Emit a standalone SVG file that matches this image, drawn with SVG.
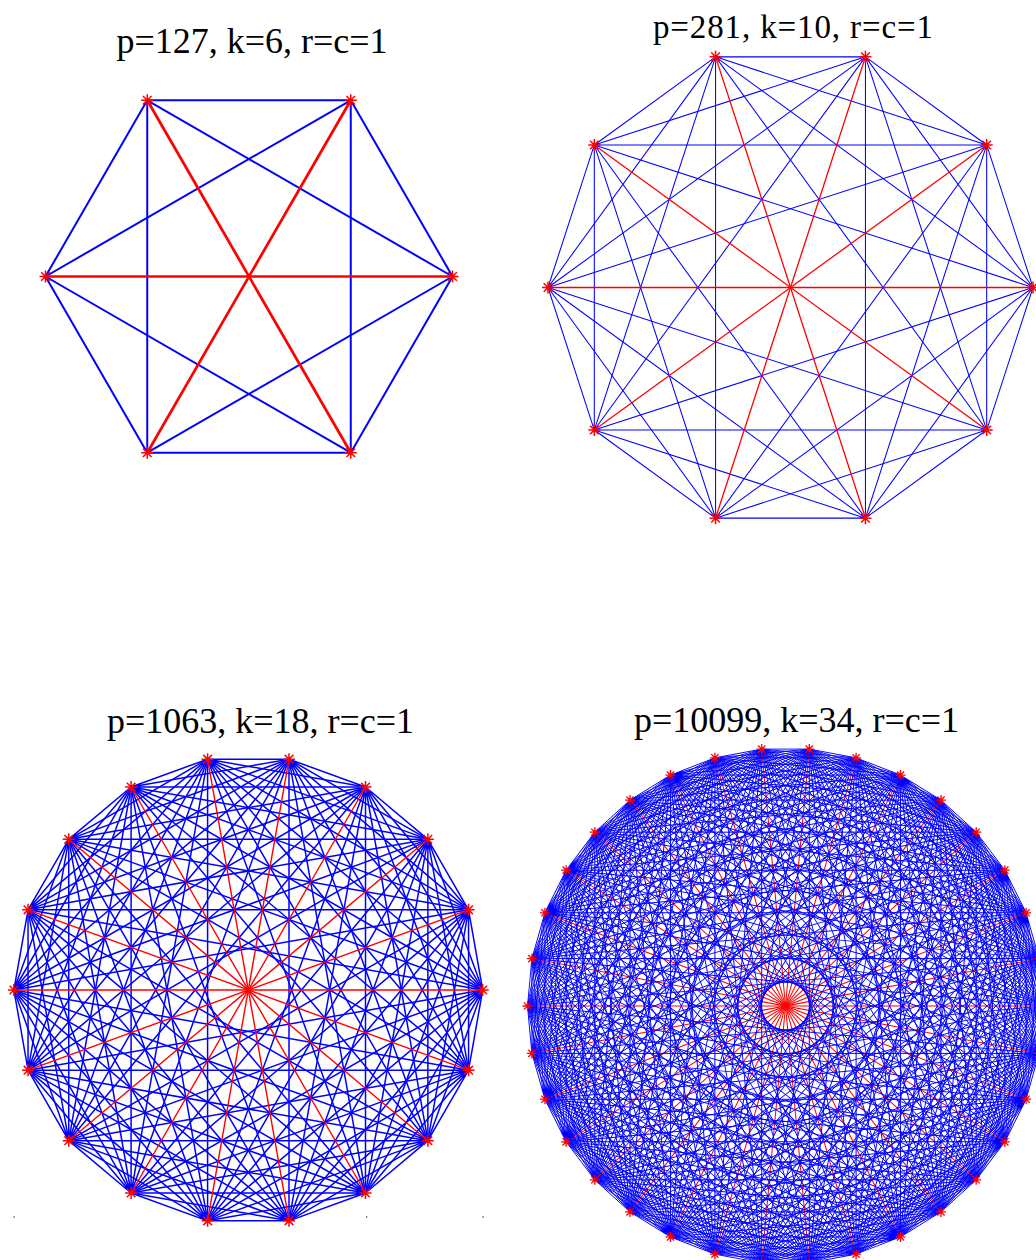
<svg xmlns="http://www.w3.org/2000/svg" xmlns:xlink="http://www.w3.org/1999/xlink" width="1036" height="1260" viewBox="0 0 1036 1260">
<style>
.t{font-family:"Liberation Serif","Times New Roman",serif;font-size:36px;fill:#000;text-anchor:middle}
.b{fill:none;stroke:#0000ff}
.r{fill:none;stroke:#ff0000}
.dot{fill:#777}
</style>
<defs>
<path id="st" d="M-6 0H6M0-6V6M-4.3-4.3L4.3 4.3M-4.3 4.3L4.3-4.3" fill="none" stroke="#ff0000" stroke-width="1.5"/>
<path id="st2" d="M-5 0H5M0-5V5M-3.6-3.6L3.6 3.6M-3.6 3.6L3.6-3.6" fill="none" stroke="#ff0000" stroke-width="1.3"/>
<path id="dia" d="M1 0L-1 0"/>
<path id="c6" d="M1 0L.5 .86603M1 0L-.5 .86603"/>
<path id="c10" d="M1 0L.80902 .58779M1 0L.30902 .95106M1 0L-.30902 .95106M1 0L-.80902 .58779"/>
<path id="c18" d="M1 0L.93969 .34202M1 0L.76604 .64279M1 0L.5 .86603M1 0L.17365 .98481M1 0L-.17365 .98481M1 0L-.5 .86603M1 0L-.76604 .64279M1 0L-.93969 .34202"/>
<path id="c34" d="M1 0L.98297 .18375M1 0L.93247 .36124M1 0L.85022 .52643M1 0L.73901 .6737M1 0L.60263 .79802M1 0L.44574 .89516M1 0L.27366 .96183M1 0L.09227 .99573M1 0L-.09227 .99573M1 0L-.27366 .96183M1 0L-.44574 .89516M1 0L-.60263 .79802M1 0L-.73901 .6737M1 0L-.85022 .52643M1 0L-.93247 .36124M1 0L-.98297 .18375"/>
</defs>

<g id="titles">
<text class="t" x="252" y="53">p=127, k=6, r=c=1</text>
<text class="t" x="793" y="38" style="font-size:33px" textLength="280" lengthAdjust="spacing">p=281, k=10, r=c=1</text>
<text class="t" x="260.5" y="733">p=1063, k=18, r=c=1</text>
<text class="t" x="796.5" y="731.5">p=10099, k=34, r=c=1</text>
</g>

<g id="connectors">
<g id="edges-k6" transform="translate(249 276.5) scale(203.5)">
<g class="b" stroke-width="0.0098">
<use href="#c6"/><use href="#c6" transform="rotate(60)"/><use href="#c6" transform="rotate(120)"/><use href="#c6" transform="rotate(180)"/><use href="#c6" transform="rotate(240)"/><use href="#c6" transform="rotate(300)"/>
</g>
<g class="r" stroke-width="0.0135">
<use href="#dia"/><use href="#dia" transform="rotate(60)"/><use href="#dia" transform="rotate(120)"/>
</g>
</g>

<g id="edges-k10" transform="translate(790.5 287.5) scale(242.5)">
<g class="b" stroke-width="0.0043">
<use href="#c10"/><use href="#c10" transform="rotate(36)"/><use href="#c10" transform="rotate(72)"/><use href="#c10" transform="rotate(108)"/><use href="#c10" transform="rotate(144)"/><use href="#c10" transform="rotate(180)"/><use href="#c10" transform="rotate(216)"/><use href="#c10" transform="rotate(252)"/><use href="#c10" transform="rotate(288)"/><use href="#c10" transform="rotate(324)"/>
</g>
<g class="r" stroke-width="0.0054">
<use href="#dia"/><use href="#dia" transform="rotate(36)"/><use href="#dia" transform="rotate(72)"/><use href="#dia" transform="rotate(108)"/><use href="#dia" transform="rotate(144)"/>
</g>
</g>

<g id="edges-k18" transform="translate(248.3 990) scale(234.4)">
<g class="b" stroke-width="0.0064">
<use href="#c18"/><use href="#c18" transform="rotate(20)"/><use href="#c18" transform="rotate(40)"/><use href="#c18" transform="rotate(60)"/><use href="#c18" transform="rotate(80)"/><use href="#c18" transform="rotate(100)"/><use href="#c18" transform="rotate(120)"/><use href="#c18" transform="rotate(140)"/><use href="#c18" transform="rotate(160)"/><use href="#c18" transform="rotate(180)"/><use href="#c18" transform="rotate(200)"/><use href="#c18" transform="rotate(220)"/><use href="#c18" transform="rotate(240)"/><use href="#c18" transform="rotate(260)"/><use href="#c18" transform="rotate(280)"/><use href="#c18" transform="rotate(300)"/><use href="#c18" transform="rotate(320)"/><use href="#c18" transform="rotate(340)"/>
</g>
<g class="r" stroke-width="0.006">
<use href="#dia"/><use href="#dia" transform="rotate(20)"/><use href="#dia" transform="rotate(40)"/><use href="#dia" transform="rotate(60)"/><use href="#dia" transform="rotate(80)"/><use href="#dia" transform="rotate(100)"/><use href="#dia" transform="rotate(120)"/><use href="#dia" transform="rotate(140)"/><use href="#dia" transform="rotate(160)"/>
</g>
</g>

<g id="edges-k34" transform="translate(785.5 1006) scale(258)">
<g class="r" stroke-width="0.004">
<use href="#dia"/><use href="#dia" transform="rotate(10.5882)"/><use href="#dia" transform="rotate(21.1765)"/><use href="#dia" transform="rotate(31.7647)"/><use href="#dia" transform="rotate(42.3529)"/><use href="#dia" transform="rotate(52.9412)"/><use href="#dia" transform="rotate(63.5294)"/><use href="#dia" transform="rotate(74.1176)"/><use href="#dia" transform="rotate(84.7059)"/><use href="#dia" transform="rotate(95.2941)"/><use href="#dia" transform="rotate(105.8824)"/><use href="#dia" transform="rotate(116.4706)"/><use href="#dia" transform="rotate(127.0588)"/><use href="#dia" transform="rotate(137.6471)"/><use href="#dia" transform="rotate(148.2353)"/><use href="#dia" transform="rotate(158.8235)"/><use href="#dia" transform="rotate(169.4118)"/>
</g>
<g class="b" stroke-width="0.0035">
<use href="#c34"/><use href="#c34" transform="rotate(10.5882)"/><use href="#c34" transform="rotate(21.1765)"/><use href="#c34" transform="rotate(31.7647)"/><use href="#c34" transform="rotate(42.3529)"/><use href="#c34" transform="rotate(52.9412)"/><use href="#c34" transform="rotate(63.5294)"/><use href="#c34" transform="rotate(74.1176)"/><use href="#c34" transform="rotate(84.7059)"/><use href="#c34" transform="rotate(95.2941)"/><use href="#c34" transform="rotate(105.8824)"/><use href="#c34" transform="rotate(116.4706)"/><use href="#c34" transform="rotate(127.0588)"/><use href="#c34" transform="rotate(137.6471)"/><use href="#c34" transform="rotate(148.2353)"/><use href="#c34" transform="rotate(158.8235)"/><use href="#c34" transform="rotate(169.4118)"/><use href="#c34" transform="rotate(180)"/><use href="#c34" transform="rotate(190.5882)"/><use href="#c34" transform="rotate(201.1765)"/><use href="#c34" transform="rotate(211.7647)"/><use href="#c34" transform="rotate(222.3529)"/><use href="#c34" transform="rotate(232.9412)"/><use href="#c34" transform="rotate(243.5294)"/><use href="#c34" transform="rotate(254.1176)"/><use href="#c34" transform="rotate(264.7059)"/><use href="#c34" transform="rotate(275.2941)"/><use href="#c34" transform="rotate(285.8824)"/><use href="#c34" transform="rotate(296.4706)"/><use href="#c34" transform="rotate(307.0588)"/><use href="#c34" transform="rotate(317.6471)"/><use href="#c34" transform="rotate(328.2353)"/><use href="#c34" transform="rotate(338.8235)"/><use href="#c34" transform="rotate(349.4118)"/>
</g>
</g>
</g>

<g id="nodes-k6">
<g id="k6-n0" transform="translate(249 276.5) rotate(0) translate(203.5) rotate(0)"><use href="#st"/></g>
<g id="k6-n1" transform="translate(249 276.5) rotate(60) translate(203.5) rotate(-60)"><use href="#st"/></g>
<g id="k6-n2" transform="translate(249 276.5) rotate(120) translate(203.5) rotate(-120)"><use href="#st"/></g>
<g id="k6-n3" transform="translate(249 276.5) rotate(180) translate(203.5) rotate(-180)"><use href="#st"/></g>
<g id="k6-n4" transform="translate(249 276.5) rotate(240) translate(203.5) rotate(-240)"><use href="#st"/></g>
<g id="k6-n5" transform="translate(249 276.5) rotate(300) translate(203.5) rotate(-300)"><use href="#st"/></g>
</g>

<g id="nodes-k10">
<g id="k10-n0" transform="translate(790.5 287.5) rotate(0) translate(242.5) rotate(0)"><use href="#st"/></g>
<g id="k10-n1" transform="translate(790.5 287.5) rotate(36) translate(242.5) rotate(-36)"><use href="#st"/></g>
<g id="k10-n2" transform="translate(790.5 287.5) rotate(72) translate(242.5) rotate(-72)"><use href="#st"/></g>
<g id="k10-n3" transform="translate(790.5 287.5) rotate(108) translate(242.5) rotate(-108)"><use href="#st"/></g>
<g id="k10-n4" transform="translate(790.5 287.5) rotate(144) translate(242.5) rotate(-144)"><use href="#st"/></g>
<g id="k10-n5" transform="translate(790.5 287.5) rotate(180) translate(242.5) rotate(-180)"><use href="#st"/></g>
<g id="k10-n6" transform="translate(790.5 287.5) rotate(216) translate(242.5) rotate(-216)"><use href="#st"/></g>
<g id="k10-n7" transform="translate(790.5 287.5) rotate(252) translate(242.5) rotate(-252)"><use href="#st"/></g>
<g id="k10-n8" transform="translate(790.5 287.5) rotate(288) translate(242.5) rotate(-288)"><use href="#st"/></g>
<g id="k10-n9" transform="translate(790.5 287.5) rotate(324) translate(242.5) rotate(-324)"><use href="#st"/></g>
</g>

<g id="nodes-k18">
<g id="k18-n0" transform="translate(248.3 990) rotate(0) translate(234.4) rotate(0)"><use href="#st"/></g>
<g id="k18-n1" transform="translate(248.3 990) rotate(20) translate(234.4) rotate(-20)"><use href="#st"/></g>
<g id="k18-n2" transform="translate(248.3 990) rotate(40) translate(234.4) rotate(-40)"><use href="#st"/></g>
<g id="k18-n3" transform="translate(248.3 990) rotate(60) translate(234.4) rotate(-60)"><use href="#st"/></g>
<g id="k18-n4" transform="translate(248.3 990) rotate(80) translate(234.4) rotate(-80)"><use href="#st"/></g>
<g id="k18-n5" transform="translate(248.3 990) rotate(100) translate(234.4) rotate(-100)"><use href="#st"/></g>
<g id="k18-n6" transform="translate(248.3 990) rotate(120) translate(234.4) rotate(-120)"><use href="#st"/></g>
<g id="k18-n7" transform="translate(248.3 990) rotate(140) translate(234.4) rotate(-140)"><use href="#st"/></g>
<g id="k18-n8" transform="translate(248.3 990) rotate(160) translate(234.4) rotate(-160)"><use href="#st"/></g>
<g id="k18-n9" transform="translate(248.3 990) rotate(180) translate(234.4) rotate(-180)"><use href="#st"/></g>
<g id="k18-n10" transform="translate(248.3 990) rotate(200) translate(234.4) rotate(-200)"><use href="#st"/></g>
<g id="k18-n11" transform="translate(248.3 990) rotate(220) translate(234.4) rotate(-220)"><use href="#st"/></g>
<g id="k18-n12" transform="translate(248.3 990) rotate(240) translate(234.4) rotate(-240)"><use href="#st"/></g>
<g id="k18-n13" transform="translate(248.3 990) rotate(260) translate(234.4) rotate(-260)"><use href="#st"/></g>
<g id="k18-n14" transform="translate(248.3 990) rotate(280) translate(234.4) rotate(-280)"><use href="#st"/></g>
<g id="k18-n15" transform="translate(248.3 990) rotate(300) translate(234.4) rotate(-300)"><use href="#st"/></g>
<g id="k18-n16" transform="translate(248.3 990) rotate(320) translate(234.4) rotate(-320)"><use href="#st"/></g>
<g id="k18-n17" transform="translate(248.3 990) rotate(340) translate(234.4) rotate(-340)"><use href="#st"/></g>
</g>

<g id="nodes-k34">
<g id="k34-n0" transform="translate(785.5 1006) rotate(0) translate(258) rotate(0)"><use href="#st2"/></g>
<g id="k34-n1" transform="translate(785.5 1006) rotate(10.5882) translate(258) rotate(-10.5882)"><use href="#st2"/></g>
<g id="k34-n2" transform="translate(785.5 1006) rotate(21.1765) translate(258) rotate(-21.1765)"><use href="#st2"/></g>
<g id="k34-n3" transform="translate(785.5 1006) rotate(31.7647) translate(258) rotate(-31.7647)"><use href="#st2"/></g>
<g id="k34-n4" transform="translate(785.5 1006) rotate(42.3529) translate(258) rotate(-42.3529)"><use href="#st2"/></g>
<g id="k34-n5" transform="translate(785.5 1006) rotate(52.9412) translate(258) rotate(-52.9412)"><use href="#st2"/></g>
<g id="k34-n6" transform="translate(785.5 1006) rotate(63.5294) translate(258) rotate(-63.5294)"><use href="#st2"/></g>
<g id="k34-n7" transform="translate(785.5 1006) rotate(74.1176) translate(258) rotate(-74.1176)"><use href="#st2"/></g>
<g id="k34-n8" transform="translate(785.5 1006) rotate(84.7059) translate(258) rotate(-84.7059)"><use href="#st2"/></g>
<g id="k34-n9" transform="translate(785.5 1006) rotate(95.2941) translate(258) rotate(-95.2941)"><use href="#st2"/></g>
<g id="k34-n10" transform="translate(785.5 1006) rotate(105.8824) translate(258) rotate(-105.8824)"><use href="#st2"/></g>
<g id="k34-n11" transform="translate(785.5 1006) rotate(116.4706) translate(258) rotate(-116.4706)"><use href="#st2"/></g>
<g id="k34-n12" transform="translate(785.5 1006) rotate(127.0588) translate(258) rotate(-127.0588)"><use href="#st2"/></g>
<g id="k34-n13" transform="translate(785.5 1006) rotate(137.6471) translate(258) rotate(-137.6471)"><use href="#st2"/></g>
<g id="k34-n14" transform="translate(785.5 1006) rotate(148.2353) translate(258) rotate(-148.2353)"><use href="#st2"/></g>
<g id="k34-n15" transform="translate(785.5 1006) rotate(158.8235) translate(258) rotate(-158.8235)"><use href="#st2"/></g>
<g id="k34-n16" transform="translate(785.5 1006) rotate(169.4118) translate(258) rotate(-169.4118)"><use href="#st2"/></g>
<g id="k34-n17" transform="translate(785.5 1006) rotate(180) translate(258) rotate(-180)"><use href="#st2"/></g>
<g id="k34-n18" transform="translate(785.5 1006) rotate(190.5882) translate(258) rotate(-190.5882)"><use href="#st2"/></g>
<g id="k34-n19" transform="translate(785.5 1006) rotate(201.1765) translate(258) rotate(-201.1765)"><use href="#st2"/></g>
<g id="k34-n20" transform="translate(785.5 1006) rotate(211.7647) translate(258) rotate(-211.7647)"><use href="#st2"/></g>
<g id="k34-n21" transform="translate(785.5 1006) rotate(222.3529) translate(258) rotate(-222.3529)"><use href="#st2"/></g>
<g id="k34-n22" transform="translate(785.5 1006) rotate(232.9412) translate(258) rotate(-232.9412)"><use href="#st2"/></g>
<g id="k34-n23" transform="translate(785.5 1006) rotate(243.5294) translate(258) rotate(-243.5294)"><use href="#st2"/></g>
<g id="k34-n24" transform="translate(785.5 1006) rotate(254.1176) translate(258) rotate(-254.1176)"><use href="#st2"/></g>
<g id="k34-n25" transform="translate(785.5 1006) rotate(264.7059) translate(258) rotate(-264.7059)"><use href="#st2"/></g>
<g id="k34-n26" transform="translate(785.5 1006) rotate(275.2941) translate(258) rotate(-275.2941)"><use href="#st2"/></g>
<g id="k34-n27" transform="translate(785.5 1006) rotate(285.8824) translate(258) rotate(-285.8824)"><use href="#st2"/></g>
<g id="k34-n28" transform="translate(785.5 1006) rotate(296.4706) translate(258) rotate(-296.4706)"><use href="#st2"/></g>
<g id="k34-n29" transform="translate(785.5 1006) rotate(307.0588) translate(258) rotate(-307.0588)"><use href="#st2"/></g>
<g id="k34-n30" transform="translate(785.5 1006) rotate(317.6471) translate(258) rotate(-317.6471)"><use href="#st2"/></g>
<g id="k34-n31" transform="translate(785.5 1006) rotate(328.2353) translate(258) rotate(-328.2353)"><use href="#st2"/></g>
<g id="k34-n32" transform="translate(785.5 1006) rotate(338.8235) translate(258) rotate(-338.8235)"><use href="#st2"/></g>
<g id="k34-n33" transform="translate(785.5 1006) rotate(349.4118) translate(258) rotate(-349.4118)"><use href="#st2"/></g>
</g>

<g id="ticks">
<rect class="dot" x="13.5" y="1216" width="1.2" height="2"/>
<rect class="dot" x="366" y="1216" width="1.2" height="2"/>
<rect class="dot" x="482.5" y="1216" width="1.2" height="2"/>
</g>
</svg>
